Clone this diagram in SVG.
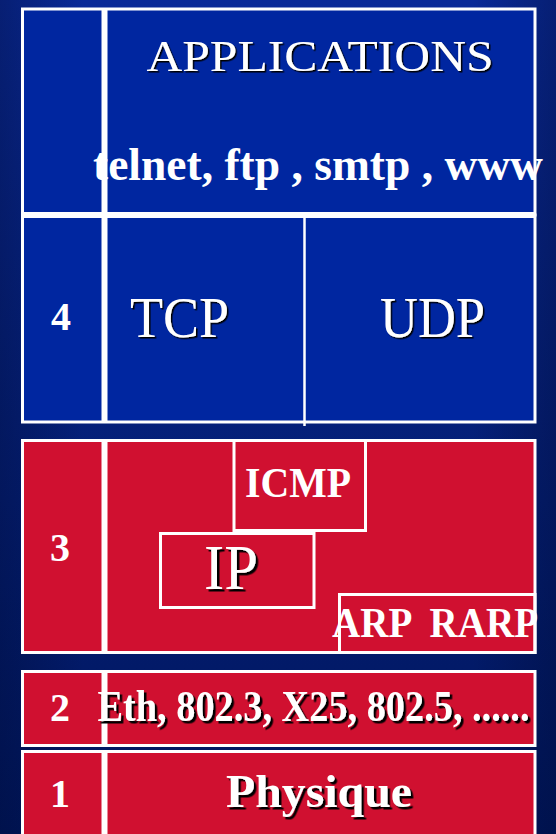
<svg xmlns="http://www.w3.org/2000/svg" width="556" height="834" viewBox="0 0 556 834">
<defs>
<linearGradient id="bg" x1="0" y1="0" x2="0" y2="1">
<stop offset="0" stop-color="#0a2a98"/>
<stop offset="1" stop-color="#00165c"/>
</linearGradient>
<linearGradient id="side" x1="0" y1="0" x2="1" y2="0">
<stop offset="0" stop-color="#000a30" stop-opacity="0.35"/>
<stop offset="0.15" stop-color="#000a30" stop-opacity="0"/>
<stop offset="0.85" stop-color="#000a30" stop-opacity="0"/>
<stop offset="1" stop-color="#000a30" stop-opacity="0.35"/>
</linearGradient>
<filter id="shadow" x="-5%" y="-10%" width="115%" height="130%">
<feDropShadow dx="1.5" dy="1.5" stdDeviation="0" flood-color="#000" flood-opacity="1"/>
</filter>
<filter id="shadow2" x="-5%" y="-10%" width="115%" height="130%">
<feDropShadow dx="2.5" dy="2.5" stdDeviation="0" flood-color="#000" flood-opacity="1"/>
</filter>
</defs>
<style>
.blue{fill:#0026a0;stroke:#fff;stroke-width:3}
.red{fill:#d01030;stroke:#fff;stroke-width:3}
.box{fill:none;stroke:#fff;stroke-width:3}
.sep{stroke:#fff;stroke-width:6}
.thin{stroke:#fff;stroke-width:2.5}
text{font-family:"Liberation Serif","Times New Roman",serif;fill:#fff}
.b{font-weight:bold}
.s1{filter:url(#shadow)}
.s2{filter:url(#shadow2)}
</style>
<rect width="556" height="834" fill="url(#bg)"/>
<rect width="556" height="834" fill="url(#side)"/>

<g id="layer-applications">
<rect class="blue" x="22.5" y="9" width="512.5" height="206"/>
<text class="s1" x="320" y="71" font-size="45" text-anchor="middle" textLength="347" lengthAdjust="spacingAndGlyphs">APPLICATIONS</text>
</g>

<g id="layer-4">
<rect class="blue" x="22.5" y="215" width="512.5" height="207"/>
<line class="thin" x1="304.5" y1="215" x2="304.5" y2="426"/>
<text class="b" x="61" y="330" font-size="40" text-anchor="middle">4</text>
<text class="s1" x="130" y="337" font-size="56" textLength="99" lengthAdjust="spacingAndGlyphs">TCP</text>
<text class="s1" x="380" y="337" font-size="56" textLength="105" lengthAdjust="spacingAndGlyphs">UDP</text>
</g>

<line class="sep" x1="104.5" y1="9" x2="104.5" y2="422"/>
<line class="sep" x1="22.5" y1="215" x2="535" y2="215"/>
<text class="b" x="93" y="180" font-size="46" textLength="450" lengthAdjust="spacingAndGlyphs">telnet, ftp , smtp , www</text>

<g id="layer-3">
<rect class="red" x="22.5" y="440.5" width="512.5" height="212"/>
<line class="sep" x1="104.5" y1="440.5" x2="104.5" y2="652.5"/>
<text class="b" x="60" y="561" font-size="40" text-anchor="middle">3</text>
</g>

<g id="icmp">
<rect class="box" x="234" y="440.5" width="131.5" height="90"/>
<text class="b" x="245" y="497" font-size="43" textLength="106" lengthAdjust="spacingAndGlyphs">ICMP</text>
</g>

<g id="ip">
<rect class="red" x="160.5" y="533.5" width="153.5" height="74"/>
<text class="s2" x="204" y="589" font-size="64" textLength="54" lengthAdjust="spacingAndGlyphs">IP</text>
</g>

<g id="arp-rarp">
<rect class="box" x="339.5" y="594.5" width="195.5" height="58"/>
<text class="b" x="332" y="637" font-size="42" xml:space="preserve" textLength="206" lengthAdjust="spacingAndGlyphs">ARP  RARP</text>
</g>

<g id="layer-2">
<rect class="red" x="22.5" y="671.5" width="512.5" height="74"/>
<line class="sep" x1="104.5" y1="671.5" x2="104.5" y2="745.5"/>
<text class="b" x="60" y="721" font-size="40" text-anchor="middle">2</text>
<text class="b s2" x="97.5" y="721" font-size="44" textLength="432" lengthAdjust="spacingAndGlyphs">Eth, 802.3, X25, 802.5, ......</text>
</g>

<g id="layer-1">
<rect class="red" x="22.5" y="751.5" width="512.5" height="95"/>
<line class="sep" x1="104.5" y1="751.5" x2="104.5" y2="846"/>
<text class="b" x="60" y="807" font-size="40" text-anchor="middle">1</text>
<text class="b s2" x="226" y="807" font-size="47" textLength="186" lengthAdjust="spacingAndGlyphs">Physique</text>
</g>

<g id="connectors"></g>
</svg>
